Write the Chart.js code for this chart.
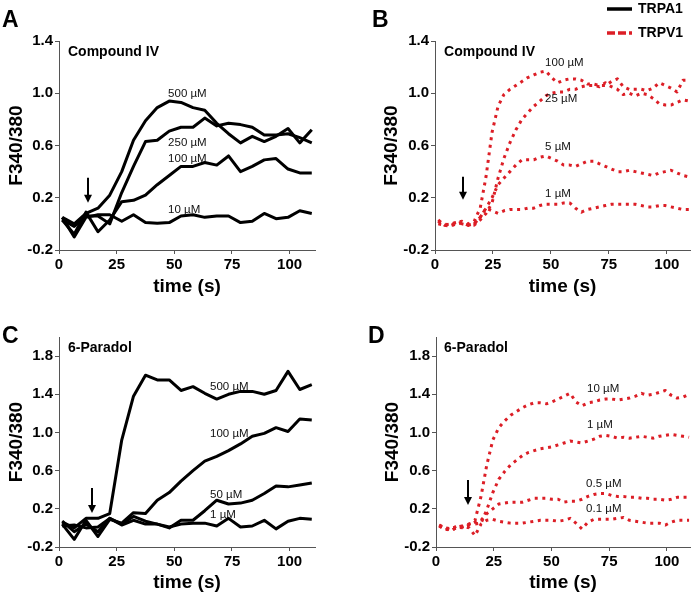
<!DOCTYPE html>
<html>
<head>
<meta charset="utf-8">
<script src="https://cdn.jsdelivr.net/npm/chart.js@4.4.0/dist/chart.umd.min.js"></script>
<style>
  body { margin: 0; background: #fff; }
  #wrap { position: relative; width: 691px; height: 596px; overflow: hidden; }
  canvas { position: absolute; }
</style>
</head>
<body>
<div id="wrap">
  <canvas id="chartA" width="345" height="300" style="left:0;top:0"></canvas>
  <canvas id="chartB" width="346" height="300" style="left:345px;top:0"></canvas>
  <canvas id="chartC" width="345" height="296" style="left:0;top:300px"></canvas>
  <canvas id="chartD" width="346" height="296" style="left:345px;top:300px"></canvas>
</div>
<script>
// ---- data ----
// TRPA1 traces (A, C) sampled every ~5 s
const timeAC = [1.4, 6.6, 11.7, 16.9, 22, 27.2, 32.3, 37.5, 42.6, 47.8, 52.9, 58.1, 63.2, 68.4, 73.5, 78.7, 83.8, 89, 94.1, 99.3, 104.4, 109.6];
// TRPV1 traces (B, D) sampled every ~2.5 s
const timeBD = [1.4, 4, 6.6, 9.1, 11.7, 14.3, 16.9, 19.5, 22, 24.6, 27.2, 29.7, 32.3, 34.9, 37.5, 40, 42.6, 45.2, 47.8, 50.3, 52.9, 55.5, 58.1, 60.6, 63.2, 65.8, 68.4, 70.9, 73.5, 76.1, 78.7, 81.2, 83.8, 86.4, 89, 91.5, 94.1, 96.7, 99.3, 101.8, 104.4, 107, 109.6];

// A: Compound IV on TRPA1
const concA = ['500 µM', '250 µM', '100 µM', '10 µM'];
const a500 = [0.05, 0.00, 0.08, 0.12, 0.22, 0.40, 0.64, 0.79, 0.89, 0.94, 0.93, 0.89, 0.87, 0.77, 0.69, 0.62, 0.67, 0.63, 0.67, 0.73, 0.62, 0.72];
const a250 = [0.03, -0.02, 0.06, 0.06, 0.00, 0.24, 0.44, 0.63, 0.64, 0.71, 0.74, 0.74, 0.81, 0.75, 0.77, 0.76, 0.74, 0.68, 0.68, 0.69, 0.66, 0.62];
const a100 = [0.03, -0.08, 0.09, -0.06, 0.03, 0.17, 0.18, 0.22, 0.30, 0.37, 0.44, 0.44, 0.47, 0.45, 0.52, 0.40, 0.44, 0.49, 0.50, 0.42, 0.39, 0.39];
const a10 = [0.05, -0.10, 0.05, 0.07, 0.07, 0.02, 0.07, 0.01, 0.005, 0.01, 0.06, 0.07, 0.05, 0.06, 0.06, 0.01, 0.02, 0.08, 0.04, 0.05, 0.10, 0.08];

// B: Compound IV on TRPV1
const concB = ['100 µM', '25 µM', '5 µM', '1 µM'];
const b100 = [0.02, 0.00, -0.01, 0.01, 0.02, 0.00, 0.02, 0.12, 0.36, 0.70, 0.90, 0.99, 1.03, 1.06, 1.09, 1.12, 1.14, 1.16, 1.17, 1.12, 1.08, 1.10, 1.11, 1.11, 1.10, 1.07, 1.07, 1.06, 1.06, 1.09, 1.11, 1.05, 1.03, 1.03, 1.03, 1.02, 1.04, 1.08, 1.06, 1.04, 1.01, 1.10, 1.10];
const b25 = [0.03, -0.01, -0.01, 0.00, 0.01, -0.01, -0.01, 0.03, 0.08, 0.16, 0.35, 0.50, 0.62, 0.72, 0.80, 0.85, 0.90, 0.94, 0.98, 1.00, 1.01, 1.01, 1.03, 1.03, 1.05, 1.06, 1.06, 1.05, 1.08, 1.05, 1.03, 0.99, 1.00, 0.98, 1.00, 0.99, 0.96, 0.92, 0.91, 0.91, 0.93, 0.95, 0.94];
const b5 = [0.00, -0.01, 0.00, 0.01, 0.00, -0.01, 0.00, 0.05, 0.12, 0.20, 0.30, 0.35, 0.40, 0.45, 0.49, 0.49, 0.49, 0.51, 0.52, 0.50, 0.48, 0.45, 0.45, 0.44, 0.46, 0.48, 0.48, 0.46, 0.44, 0.42, 0.40, 0.40, 0.41, 0.40, 0.39, 0.38, 0.37, 0.39, 0.40, 0.41, 0.39, 0.37, 0.36];
const b1 = [0.02, -0.01, -0.02, 0.00, 0.01, -0.01, 0.00, 0.05, 0.12, 0.10, 0.08, 0.10, 0.11, 0.11, 0.11, 0.12, 0.12, 0.14, 0.15, 0.15, 0.15, 0.16, 0.16, 0.12, 0.09, 0.11, 0.12, 0.13, 0.14, 0.15, 0.15, 0.15, 0.15, 0.15, 0.14, 0.13, 0.13, 0.14, 0.14, 0.13, 0.12, 0.11, 0.11];

// C: 6-Paradol on TRPA1
const concC = ['500 µM', '100 µM', '50 µM', '1 µM'];
const c500 = [0.06, 0.00, 0.10, 0.10, 0.15, 0.92, 1.38, 1.60, 1.55, 1.55, 1.44, 1.48, 1.41, 1.35, 1.40, 1.43, 1.43, 1.40, 1.44, 1.64, 1.45, 1.50];
const c100 = [0.04, -0.12, 0.08, -0.09, 0.09, 0.05, 0.16, 0.15, 0.29, 0.37, 0.49, 0.60, 0.70, 0.75, 0.81, 0.88, 0.96, 0.99, 1.05, 1.01, 1.14, 1.13];
const c50 = [0.07, -0.04, 0.04, -0.04, 0.10, 0.04, 0.12, 0.07, 0.04, 0.00, 0.08, 0.08, 0.18, 0.29, 0.25, 0.26, 0.29, 0.36, 0.44, 0.43, 0.45, 0.47];
const c1 = [0.02, 0.03, 0.00, 0.01, 0.10, 0.03, 0.08, 0.04, 0.04, 0.01, 0.04, 0.05, 0.05, 0.02, 0.10, 0.01, 0.02, 0.08, -0.01, 0.07, 0.10, 0.09];

// D: 6-Paradol on TRPV1
const concD = ['10 µM', '1 µM', '0.5 µM', '0.1 µM'];
const d10 = [0.03, 0.00, -0.01, 0.02, 0.01, 0.04, 0.08, 0.33, 0.66, 0.92, 1.05, 1.12, 1.18, 1.22, 1.26, 1.29, 1.31, 1.31, 1.30, 1.32, 1.35, 1.38, 1.41, 1.32, 1.28, 1.31, 1.32, 1.34, 1.35, 1.35, 1.34, 1.35, 1.36, 1.38, 1.41, 1.39, 1.40, 1.42, 1.44, 1.39, 1.36, 1.37, 1.40];
const d1 = [0.02, -0.02, 0.00, 0.00, 0.02, 0.04, 0.04, 0.05, 0.19, 0.37, 0.51, 0.59, 0.66, 0.71, 0.76, 0.79, 0.81, 0.83, 0.84, 0.85, 0.87, 0.89, 0.91, 0.90, 0.89, 0.91, 0.93, 0.96, 0.97, 0.96, 0.94, 0.95, 0.94, 0.95, 0.96, 0.95, 0.94, 0.96, 0.97, 0.98, 0.97, 0.96, 0.95];
const d05 = [0.02, 0.00, -0.03, 0.01, 0.00, 0.03, 0.06, 0.08, 0.15, 0.20, 0.25, 0.26, 0.27, 0.27, 0.27, 0.29, 0.31, 0.31, 0.31, 0.30, 0.30, 0.27, 0.28, 0.28, 0.30, 0.33, 0.35, 0.36, 0.36, 0.34, 0.33, 0.33, 0.32, 0.32, 0.31, 0.31, 0.30, 0.30, 0.29, 0.30, 0.32, 0.32, 0.32];
const d01 = [0.03, -0.01, -0.03, 0.01, 0.02, 0.00, -0.08, 0.04, 0.08, 0.09, 0.07, 0.06, 0.05, 0.05, 0.05, 0.06, 0.07, 0.08, 0.08, 0.08, 0.07, 0.08, 0.10, 0.05, -0.01, 0.06, 0.09, 0.09, 0.09, 0.09, 0.10, 0.11, 0.08, 0.07, 0.06, 0.05, 0.05, 0.05, 0.03, 0.06, 0.08, 0.08, 0.08];

// tick labels
const xTicks = [0, 25, 50, 75, 100];
const yTicksTop = [-0.2, 0.2, 0.6, 1.0, 1.4];
const yTicksBottom = [-0.2, 0.2, 0.6, 1.0, 1.4, 1.8];

// ---- drawing ----
const FONT = '"Liberation Sans", Arial, sans-serif';
const RED = '#dc1e26';

function trace(label, values, times, red) {
  return {
    label: label,
    data: times.map((t, i) => ({ x: t, y: values[i] })),
    borderColor: red ? RED : '#000',
    borderWidth: 3,
    borderDash: red ? [3, 4.6] : [],
    borderCapStyle: 'butt',
    borderJoinStyle: 'round',
    pointRadius: 0,
    tension: 0,
    fill: false
  };
}

// panel letter, compound name, concentration labels, arrow, legend
const notesPlugin = {
  id: 'notes',
  afterDatasetsDraw(chart, args, o) {
    const ctx = chart.ctx;
    const x = chart.scales.x, y = chart.scales.y;
    ctx.save();
    ctx.textAlign = 'left';
    ctx.textBaseline = 'alphabetic';
    ctx.fillStyle = '#000';
    ctx.font = 'bold 23px ' + FONT;
    ctx.fillText(o.letter, o.letterPos[0], o.letterPos[1]);

    ctx.font = 'bold 14px ' + FONT;
    ctx.fillText(o.title, x.getPixelForValue(o.titleAt[0]), y.getPixelForValue(o.titleAt[1]));

    ctx.font = '11.5px ' + FONT;
    ctx.fillStyle = '#111';
    o.names.forEach((s, i) => {
      ctx.fillText(s, x.getPixelForValue(o.nameAt[i][0]), y.getPixelForValue(o.nameAt[i][1]));
    });

    // stimulus arrow
    const ax = Math.round(x.getPixelForValue(o.arrow[0]));
    const top = y.getPixelForValue(o.arrow[1]);
    const tip = y.getPixelForValue(o.arrow[2]);
    ctx.fillStyle = '#000';
    ctx.strokeStyle = '#000';
    ctx.lineWidth = 2;
    ctx.beginPath();
    ctx.moveTo(ax, top);
    ctx.lineTo(ax, tip - 7);
    ctx.stroke();
    ctx.beginPath();
    ctx.moveTo(ax - 4, tip - 8);
    ctx.lineTo(ax + 4, tip - 8);
    ctx.lineTo(ax, tip);
    ctx.closePath();
    ctx.fill();

    if (o.legend) {
      const lx = 262, lw = 25, tx = 293;
      ctx.font = 'bold 14px ' + FONT;
      ctx.textBaseline = 'middle';
      ctx.lineWidth = 3.5;
      ctx.strokeStyle = '#000';
      ctx.beginPath(); ctx.moveTo(lx, 9); ctx.lineTo(lx + lw, 9); ctx.stroke();
      ctx.fillStyle = '#000';
      ctx.fillText('TRPA1', tx, 9);
      ctx.strokeStyle = RED;
      ctx.setLineDash([8, 3]);
      ctx.beginPath(); ctx.moveTo(lx, 33); ctx.lineTo(lx + lw, 33); ctx.stroke();
      ctx.setLineDash([]);
      ctx.fillText('TRPV1', tx, 33);
    }
    ctx.restore();
  }
};

function makePanel(id, cfg) {
  const tickFont = { family: FONT, size: 15, weight: 'bold' };
  const titleFont = { family: FONT, size: 19, weight: 'bold' };
  new Chart(document.getElementById(id), {
    type: 'line',
    data: { datasets: cfg.datasets },
    plugins: [notesPlugin],
    options: {
      responsive: false,
      animation: false,
      devicePixelRatio: 1,
      layout: { padding: cfg.padding },
      plugins: {
        legend: { display: false },
        tooltip: { enabled: false },
        notes: cfg.notes
      },
      scales: {
        x: {
          type: 'linear',
          min: 0,
          max: cfg.xMax,
          afterBuildTicks: s => { s.ticks = xTicks.map(v => ({ value: v })); },
          afterFit: s => { s.height = cfg.xHeight; },
          grid: { drawOnChartArea: false, drawTicks: true, tickLength: 4, color: '#555' },
          border: { display: true, color: '#555', width: 1 },
          ticks: { color: '#000', font: tickFont, padding: 2, maxRotation: 0 },
          title: { display: true, text: 'time (s)', color: '#000', font: titleFont, padding: { top: 0, bottom: 2 } }
        },
        y: {
          min: -0.2,
          max: cfg.yMax,
          afterBuildTicks: s => { s.ticks = cfg.yTicks.map(v => ({ value: v })); },
          afterFit: s => { s.width = cfg.yWidth; },
          grid: { drawOnChartArea: false, drawTicks: true, tickLength: 4, color: '#555' },
          border: { display: true, color: '#555', width: 1 },
          ticks: { color: '#000', font: tickFont, padding: 2, callback: v => v.toFixed(1) },
          title: { display: true, text: 'F340/380', color: '#000', font: titleFont, padding: { top: 5, bottom: 0 } }
        }
      }
    }
  });
}

makePanel('chartA', {
  datasets: [trace(concA[0], a500, timeAC), trace(concA[1], a250, timeAC), trace(concA[2], a100, timeAC), trace(concA[3], a10, timeAC)],
  padding: { left: 0, right: 30, top: 41, bottom: 0 },
  xMax: 111, xHeight: 50, yWidth: 59, yMax: 1.4, yTicks: yTicksTop,
  notes: {
    letter: 'A', letterPos: [2, 27],
    title: 'Compound IV', titleAt: [3.9, 1.285],
    names: concA, nameAt: [[47.3, 0.97], [47.3, 0.60], [47.3, 0.47], [47.3, 0.085]],
    arrow: [12.6, 0.354, 0.162]
  }
});

makePanel('chartB', {
  datasets: [trace(concB[0], b100, timeBD, true), trace(concB[1], b25, timeBD, true), trace(concB[2], b5, timeBD, true), trace(concB[3], b1, timeBD, true)],
  padding: { left: 30, right: 1, top: 41, bottom: 0 },
  xMax: 110, xHeight: 50, yWidth: 60, yMax: 1.4, yTicks: yTicksTop,
  notes: {
    letter: 'B', letterPos: [27, 27],
    title: 'Compound IV', titleAt: [3.9, 1.285],
    names: concB, nameAt: [[47.5, 1.208], [47.5, 0.931], [47.5, 0.569], [47.5, 0.208]],
    arrow: [12.1, 0.36, 0.185],
    legend: true
  }
});

makePanel('chartC', {
  datasets: [trace(concC[0], c500, timeAC), trace(concC[1], c100, timeAC), trace(concC[2], c50, timeAC), trace(concC[3], c1, timeAC)],
  padding: { left: 0, right: 30, top: 37, bottom: 0 },
  xMax: 111, xHeight: 49, yWidth: 59, yMax: 2.0, yTicks: yTicksBottom,
  notes: {
    letter: 'C', letterPos: [2, 43],
    title: '6-Paradol', titleAt: [3.9, 1.842],
    names: concC, nameAt: [[65.5, 1.444], [65.5, 0.952], [65.5, 0.313], [65.5, 0.104]],
    arrow: [14.3, 0.418, 0.156]
  }
});

makePanel('chartD', {
  datasets: [trace(concD[0], d10, timeBD, true), trace(concD[1], d1, timeBD, true), trace(concD[2], d05, timeBD, true), trace(concD[3], d01, timeBD, true)],
  padding: { left: 31, right: 1, top: 37, bottom: 0 },
  xMax: 110, xHeight: 49, yWidth: 60, yMax: 2.0, yTicks: yTicksBottom,
  notes: {
    letter: 'D', letterPos: [23, 43],
    title: '6-Paradol', titleAt: [3.5, 1.842],
    names: concD, nameAt: [[65.4, 1.423], [65.4, 1.046], [65, 0.428], [65, 0.166]],
    arrow: [13.9, 0.502, 0.24]
  }
});
</script>
</body>
</html>
